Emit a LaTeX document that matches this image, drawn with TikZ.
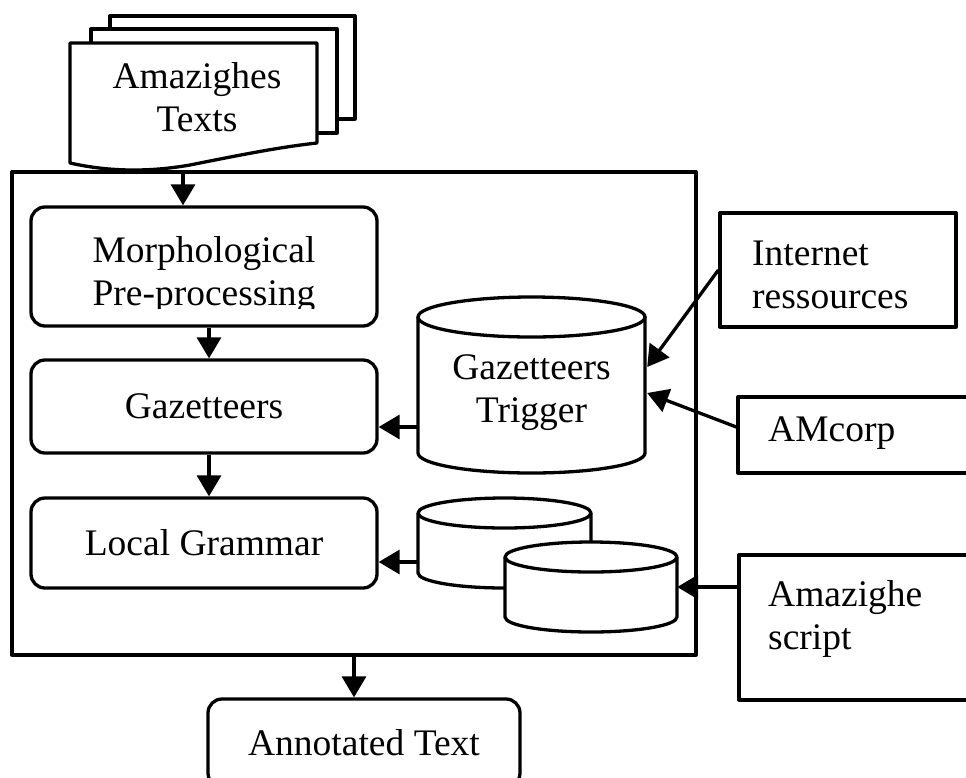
\documentclass[tikz,border=0pt]{standalone}
\usepackage{fontspec}
\setmainfont{Liberation Serif}
\usetikzlibrary{arrows.meta,calc}
\tikzset{
  lbl/.style={font=\fontsize{37.5}{43}\selectfont, align=center, inner sep=0pt},
  lbll/.style={font=\fontsize{37.5}{43}\selectfont, align=left, inner sep=0pt, anchor=west},
  edge/.style={line width=3.3pt, line join=round},
  rbox/.style={draw, edge, rounded corners=14pt, minimum width=346pt, inner sep=0pt},
  sbox/.style={draw, edge, inner sep=0pt},
  ghost/.style={inner sep=0pt},
  arr/.style={line width=3.3pt, -{Triangle[length=21pt,width=24pt]}},
  page/.style={edge, fill=white},
}
% drum: left x, right x, top-ellipse centre y, bottom-ellipse centre y, half height
\newcommand\drawdrum[5]{%
  \pgfmathsetmacro\drx{(#2-#1)/2}%
  \fill[white] (#1,#3) -- (#1,#4) arc[start angle=180,end angle=360,x radius=\drx pt,y radius=#5pt] -- (#2,#3) -- cycle;
  \draw[edge] (#1,#3) -- (#1,#4) arc[start angle=180,end angle=360,x radius=\drx pt,y radius=#5pt] -- (#2,#3);
  \draw[edge,fill=white] ({(#1+#2)/2},#3) ellipse[x radius=\drx pt,y radius=#5pt];
}
\begin{document}
\begin{tikzpicture}[x=1pt,y=-1pt]
\useasboundingbox (0,0) rectangle (966,777);
\clip (0,0) rectangle (966,777);

% system frame
\node[sbox, minimum width=684pt, minimum height=483pt] (sys) at (354,413.5) {};

% stack of input documents
\draw[page] (110,16) rectangle (355,119);
\draw[page] (91,29) rectangle (337,133);
\draw[page] (70,43) -- (317,43) -- (317,143)
  .. controls (280,147) and (240,155) .. (190,165)
  .. controls (150,172) and (110,172) .. (70,163) -- cycle;
\node[lbl] (docs) at (197,97) {Amazighes\\Texts};
\coordinate (docb) at (183,170);

% processing steps
\node[rbox, minimum height=119pt] (morph) at (204,266.5) {};
\begin{scope}
  \clip (31,200) rectangle (377,308);
  \node[lbl] (morphtxt) at (204,275) {Morphological\\Pre-processing};
\end{scope}
\node[rbox, minimum height=93pt, lbl] (gaz) at (204,406.5) {Gazetteers};
\node[rbox, minimum height=90pt, lbl] (lg) at (204,543) {Local Grammar};

% databases
\drawdrum{418}{645}{317}{453}{20}
\drawdrum{418}{591}{513}{573}{15}
\drawdrum{505}{677}{557}{617}{15}
\node[lbl, minimum width=227pt, minimum height=152pt] (trig) at (531.5,393) {Gazetteers\\Trigger};
\node[ghost, minimum width=173pt, minimum height=60pt] (db1) at (504.5,543) {};
\node[ghost, minimum width=172pt, minimum height=60pt] (db2) at (591,587) {};

% external resources
\node[sbox, minimum width=236pt, minimum height=114pt] (inet) at (838,270) {};
\node[lbll] (inettxt) at (752,275) {Internet\\ressources};
\node[sbox, minimum width=262pt, minimum height=76pt] (amc) at (869,435) {};
\node[lbll] (amctxt) at (768,433) {AMcorp};
\node[sbox, minimum width=261pt, minimum height=145pt] (scr) at (869.5,627.5) {};
\node[lbll] (scrtxt) at (768,619) {Amazighe\\script};

% output
\node[rbox, minimum width=312pt, minimum height=88pt, lbl] (ann) at (364,743) {Annotated Text};

% connectors
\draw[arr] (docb) -- (docb |- morph.north);
\draw[arr] ([xshift=5pt]morph.south) -- ([xshift=5pt]gaz.north);
\draw[arr] ([xshift=5pt]gaz.south) -- ([xshift=5pt]lg.north);
\draw[arr] ([yshift=-34pt]trig.west) -- ([yshift=-34pt]trig.west -| gaz.east);
\draw[arr] ([yshift=-19pt]db1.west) -- ([yshift=-19pt]db1.west -| lg.east);
\draw[arr] (inet.west) -- ([xshift=2pt,yshift=26pt]trig.east);
\draw[arr] ([yshift=8pt]amc.west) -- ([xshift=2pt]trig.east);
\draw[arr] (scr.west |- db2.east) -- (db2.east);
\draw[arr] (sys.south) -- (sys.south |- ann.north);
\end{tikzpicture}
\end{document}
